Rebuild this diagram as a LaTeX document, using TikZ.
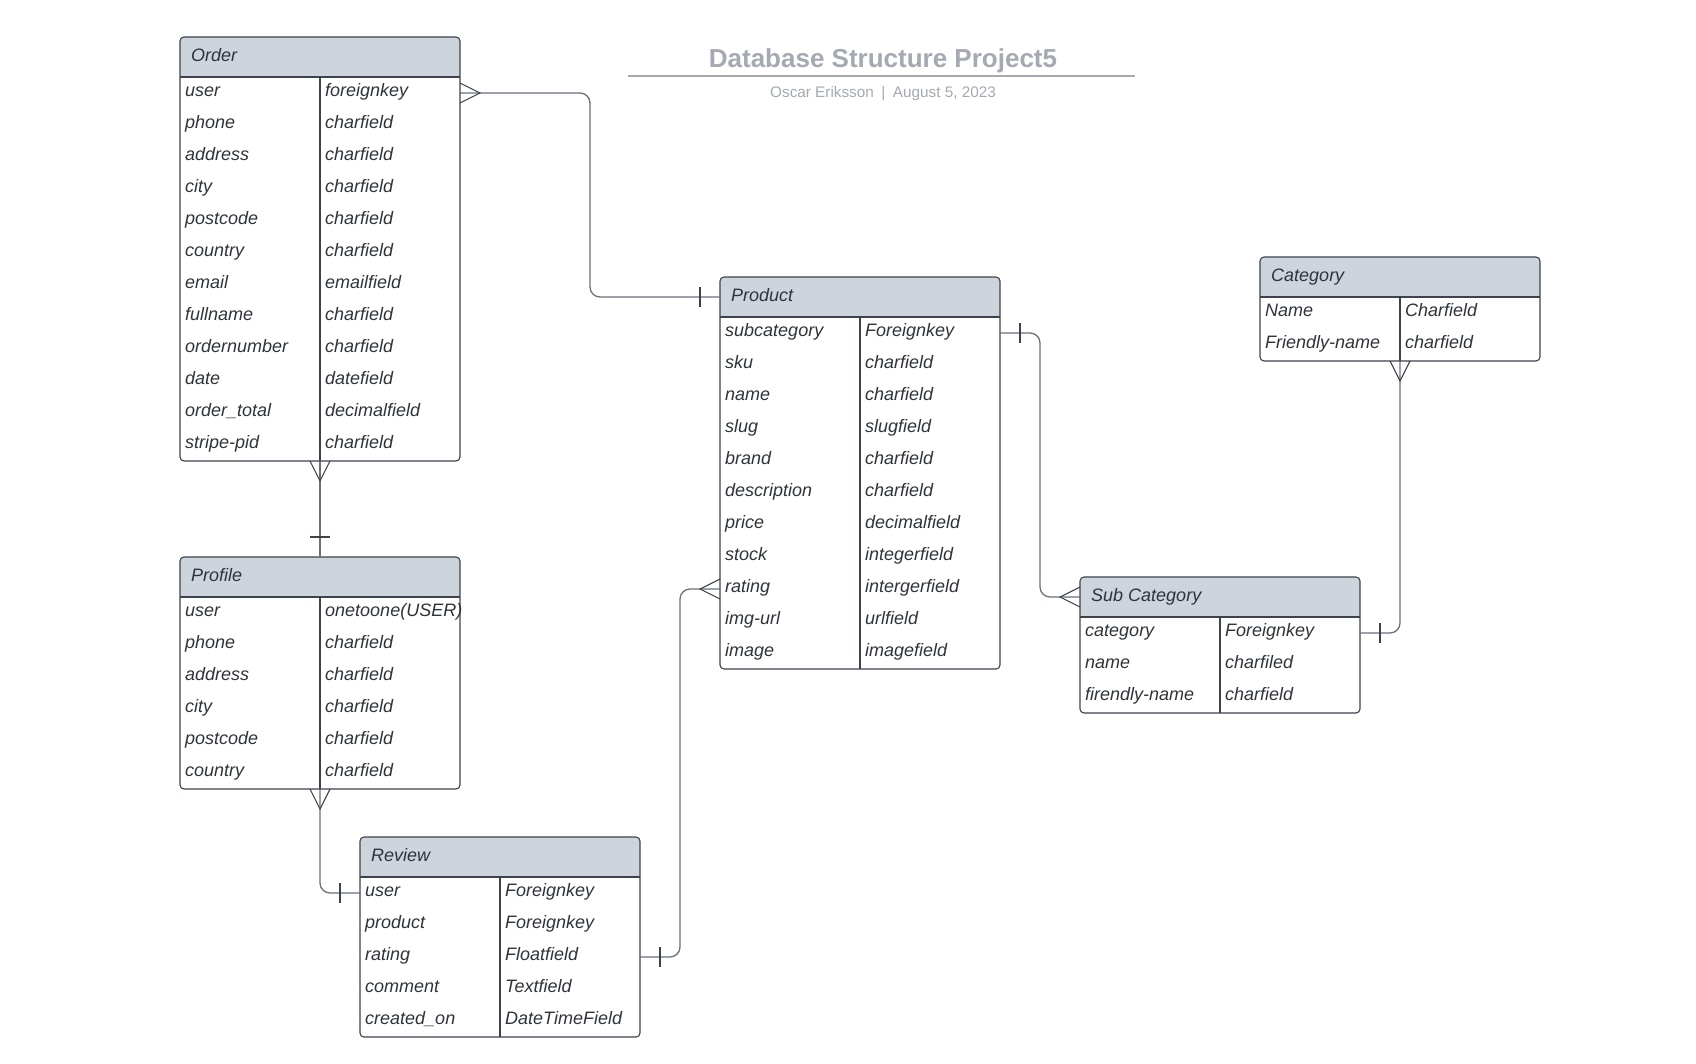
\documentclass[tikz,border=0pt]{standalone}
\usepackage{fontspec}
\setmainfont{Liberation Sans}
\definecolor{hdrfill}{HTML}{CED4DC}
\definecolor{tblcol}{HTML}{3D434C}
\definecolor{txtcol}{HTML}{2F333A}
\definecolor{conncol}{HTML}{6A7079}
\definecolor{titlecol}{HTML}{A4A9B2}
\tikzset{
  tblbox/.style={rectangle, inner sep=0pt, outer sep=0pt, minimum width=280pt},
  tblline/.style={draw=tblcol, line width=1.1pt},
  hdrtext/.style={inner sep=0pt, text=txtcol, font=\fontsize{18pt}{22pt}\selectfont\itshape},
  rowtext/.style={inner sep=0pt, text=txtcol, font=\fontsize{18pt}{22pt}\selectfont\itshape},
  conn/.style={draw=conncol, line width=1.3pt, rounded corners=10pt},
  ermk/.style={draw=tblcol, line width=1.1pt},
  crowfoot/.pic={\draw[ermk] (0,-10) -- (20,0) -- (0,10);},
  onebar/.pic={\draw[ermk] (20,-10) -- (20,10);}
}
\newcommand\ertable[6]{%
  \node[tblbox, minimum height={(40+32*#4)*1pt}, anchor=north west] (#1) at (#2,#3) {};
  \begin{scope}
    \clip[rounded corners=4pt] (#1.north west) rectangle (#1.south east);
    \fill[hdrfill] (#1.north west) rectangle ([yshift=-40pt]#1.north east);
  \end{scope}
  \draw[tblline, rounded corners=4pt] (#1.north west) rectangle (#1.south east);
  \draw[tblline] ([yshift=-40pt]#1.north west) -- ([yshift=-40pt]#1.north east);
  \draw[tblline] ([yshift=-40pt]#1.north) -- (#1.south);
  \node[hdrtext, anchor=base west] (#1-h) at ([xshift=11pt, yshift=-24pt]#1.north west) {#5};
  \coordinate (#1-hw) at ([yshift=-20pt]#1.north west);
  \foreach \colA/\colB [count=\i] in {#6} {
    \coordinate (#1-\i-w) at ([yshift={-40pt-32pt*\i+16pt}]#1.north west);
    \coordinate (#1-\i-e) at ([yshift={-40pt-32pt*\i+16pt}]#1.north east);
    \node[rowtext, anchor=base west] (#1-\i-n) at ([xshift=5pt, yshift=-3.5pt]#1-\i-w) {\colA};
    \node[rowtext, anchor=base west] (#1-\i-t) at ([xshift=145pt, yshift=-3.5pt]#1-\i-w) {\colB};
  }
}
\begin{document}
\begin{tikzpicture}[x=1pt, y=-1pt]
\useasboundingbox[fill=white] (0,0) rectangle (1696,1063);

% title
\node[inner sep=0pt, anchor=base, text=titlecol, font=\fontsize{26pt}{30pt}\selectfont\bfseries] (title) at (883,67) {Database Structure Project5};
\draw[draw=titlecol, line width=2pt] (628,76) -- (1135,76);
\node[inner sep=0pt, anchor=base, text=titlecol, font=\fontsize{15.3pt}{18pt}\selectfont] (subtitle) at (883,97.5) {Oscar Eriksson\hspace{7.5pt}|\hspace{7.5pt}August 5, 2023};

% tables
\ertable{order}{180}{37}{12}{Order}{user/foreignkey, phone/charfield, address/charfield, city/charfield, postcode/charfield, country/charfield, email/emailfield, fullname/charfield, ordernumber/charfield, date/datefield, order\_total/decimalfield, stripe-pid/charfield}
\ertable{profile}{180}{557}{6}{Profile}{user/onetoone(USER), phone/charfield, address/charfield, city/charfield, postcode/charfield, country/charfield}
\ertable{review}{360}{837}{5}{Review}{user/Foreignkey, product/Foreignkey, rating/Floatfield, comment/Textfield, created\_on/DateTimeField}
\ertable{product}{720}{277}{11}{Product}{subcategory/Foreignkey, sku/charfield, name/charfield, slug/slugfield, brand/charfield, description/charfield, price/decimalfield, stock/integerfield, rating/intergerfield, img-url/urlfield, image/imagefield}
\ertable{category}{1260}{257}{2}{Category}{Name/Charfield, Friendly-name/charfield}
\ertable{subcat}{1080}{577}{3}{Sub Category}{category/Foreignkey, name/charfiled, firendly-name/charfield}

% routing x positions
\coordinate (r1) at (590,0);
\coordinate (r2) at (1040,0);
\coordinate (r6) at (680,0);

% connectors
\draw[conn] (order-1-e) -- (order-1-e -| r1) |- (product-hw);
\pic at (order-1-e) {crowfoot};
\pic[rotate=180] at (product-hw) {onebar};

\draw[conn] (product-1-e) -- (product-1-e -| r2) |- (subcat-hw);
\pic at (product-1-e) {onebar};
\pic[rotate=180] at (subcat-hw) {crowfoot};

\draw[conn] (category.south) |- (subcat-1-e);
\pic[rotate=-90] at (category.south) {crowfoot};
\pic at (subcat-1-e) {onebar};

\draw[conn] (order.south) -- (profile.north);
\pic[rotate=-90] at (order.south) {crowfoot};
\pic[rotate=90] at (profile.north) {onebar};

\draw[conn] (profile.south) |- (review-1-w);
\pic[rotate=-90] at (profile.south) {crowfoot};
\pic[rotate=180] at (review-1-w) {onebar};

\draw[conn] (review-3-e) -- (review-3-e -| r6) |- (product-9-w);
\pic at (review-3-e) {onebar};
\pic[rotate=180] at (product-9-w) {crowfoot};
\end{tikzpicture}
\end{document}
